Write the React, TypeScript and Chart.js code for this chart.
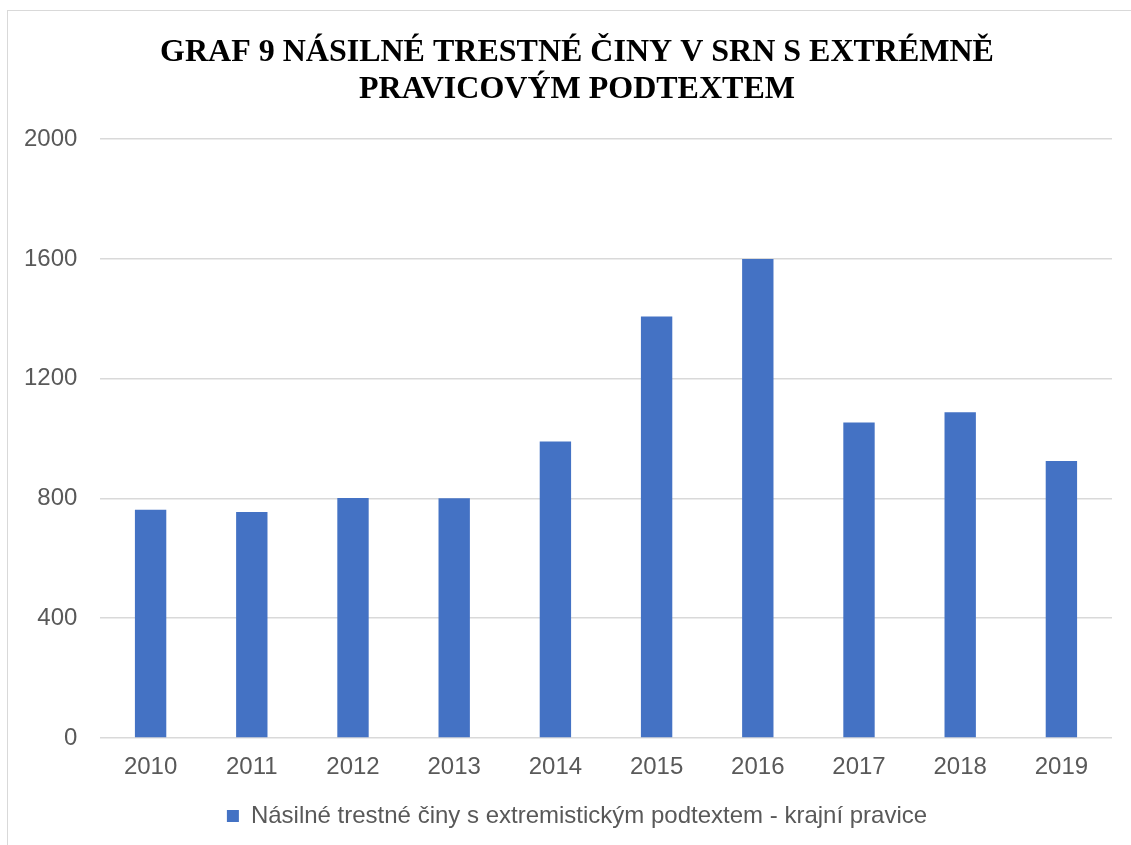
import React, { useEffect, useRef } from "react";
import { Chart, registerables } from "chart.js";

Chart.register(...registerables);

const TITLE_LINES = ["GRAF 9 NÁSILNÉ TRESTNÉ ČINY V SRN S EXTRÉMNĚ", "PRAVICOVÝM PODTEXTEM"];
const YEARS = ["2010", "2011", "2012", "2013", "2014", "2015", "2016", "2017", "2018", "2019"];
const VIOLENT_CRIMES = [762, 755, 802, 801, 990, 1408, 1600, 1054, 1088, 925];
const SERIES_LABEL = "Násilné trestné činy s extremistickým podtextem - krajní pravice";
const Y_MIN = 0;
const Y_MAX = 2000;
const Y_STEP = 400;

export default function App() {
  const canvasRef = useRef<HTMLCanvasElement | null>(null);

  useEffect(() => {
    if (!canvasRef.current) return;
    const chart = new Chart(canvasRef.current, {
      type: "bar",
      data: {
        labels: YEARS,
        datasets: [
          {
            label: SERIES_LABEL,
            data: VIOLENT_CRIMES,
            backgroundColor: "#4472C4",
            borderWidth: 0,
            barPercentage: 0.31,
            categoryPercentage: 1,
          },
        ],
      },
      options: {
        animation: false,
        responsive: false,
        maintainAspectRatio: false,
        layout: { padding: { left: 42, right: 19, top: 0, bottom: 7 } },
        plugins: {
          title: {
            display: true,
            text: TITLE_LINES,
            color: "#000000",
            font: { family: "'Liberation Serif', 'Times New Roman', serif", size: 32, weight: "bold", lineHeight: 1.16 },
            padding: { top: 34, bottom: 31 },
          },
          legend: {
            display: true,
            position: "bottom",
            labels: {
              color: "#595959",
              font: { family: "'Liberation Sans', Arial, sans-serif", size: 24 },
              boxWidth: 12,
              boxHeight: 12,
              padding: 10,
            },
          },
          tooltip: { enabled: false },
        },
        scales: {
          x: {
            grid: { display: false, drawTicks: false },
            border: { display: false },
            ticks: {
              color: "#595959",
              font: { family: "'Liberation Sans', Arial, sans-serif", size: 24 },
              padding: 15,
            },
            afterFit: (scale: any) => {
              scale.height = 56;
            },
          },
          y: {
            min: Y_MIN,
            max: Y_MAX,
            grid: { color: "#d9d9d9", lineWidth: 1.5, drawTicks: false },
            border: { display: false },
            ticks: {
              stepSize: Y_STEP,
              color: "#595959",
              font: { family: "'Liberation Sans', Arial, sans-serif", size: 24 },
              mirror: true,
              crossAlign: "far",
              padding: -76,
              callback: (value: any) => String(value),
            },
            afterFit: (scale: any) => {
              scale.width = 58;
            },
          },
        },
      },
    });
    return () => chart.destroy();
  }, []);

  return (
    <div style={{ position: "absolute", left: 0, top: 0, width: 1131, height: 845, background: "#ffffff" }}>
      <div
        style={{
          position: "absolute",
          left: 7,
          top: 10,
          width: 1140,
          height: 850,
          border: "1px solid #d9d9d9",
          boxSizing: "border-box",
        }}
      />
      <canvas ref={canvasRef} width={1131} height={845} style={{ position: "absolute", left: 0, top: 0 }} />
    </div>
  );
}
